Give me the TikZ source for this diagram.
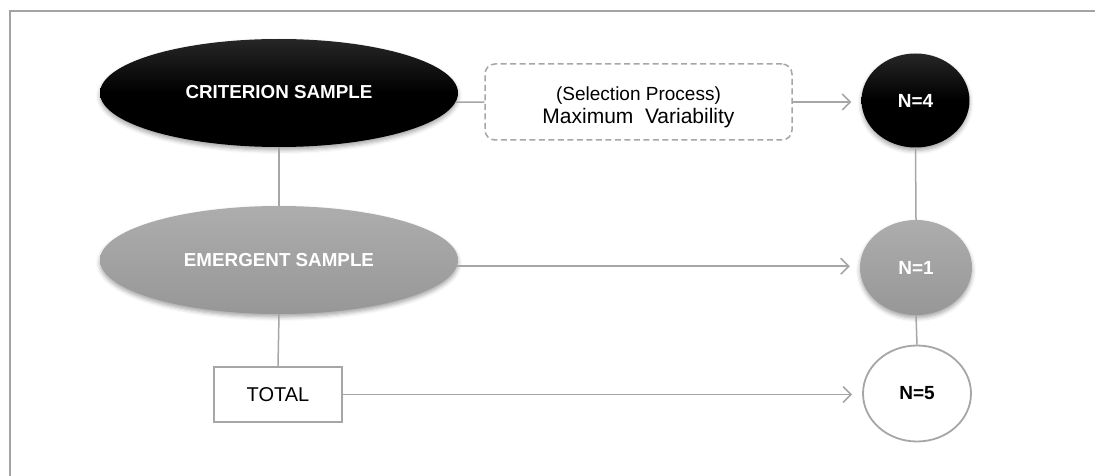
\documentclass[tikz,border=0pt]{standalone}
\usepackage{fontspec}
\setmainfont{Liberation Sans}
\usetikzlibrary{arrows.meta,shapes.geometric,shadows.blur}

\definecolor{linegray}{HTML}{A6A6A6}
\definecolor{framegray}{HTML}{A3A3A3}
\definecolor{midgray}{HTML}{A4A4A4}

\tikzset{
  link/.style={draw=linegray, line width=1.5pt},
  arrowlink/.style={link, -{Straight Barb[length=8pt,width=16pt,line width=1.5pt]}, shorten >=10pt},
  softshadow/.style={blur shadow={shadow xshift=0pt, shadow yshift=-3pt, shadow blur radius=4pt, shadow opacity=35}},
  bigoval/.style={ellipse, minimum width=358pt, minimum height=108pt, inner sep=0pt,
    text=white, font=\fontsize{18.8}{21}\selectfont\bfseries, softshadow},
  smalloval/.style={ellipse, minimum width=108pt, minimum height=94pt, inner sep=0pt,
    font=\fontsize{19}{22}\selectfont\bfseries},
  darkfill/.style={top color=black!85, bottom color=black, middle color=black},
  grayfill/.style={top color=midgray!90!white, bottom color=midgray!92!black},
  plainbox/.style={rectangle, draw=linegray, line width=1.5pt, fill=white, inner sep=0pt},
}

\begin{document}
\begin{tikzpicture}[x=1pt, y=-1pt]
\useasboundingbox (0,0) rectangle (1095,476);

% outer frame (top and left edges)
\draw[framegray, line width=2pt] (9.5,477) -- (9.5,11) -- (1096,11);

% left column
\node[bigoval, darkfill] (crit) at (279,93) {\raisebox{3pt}{CRITERION SAMPLE}};
\node[bigoval, grayfill] (emer) at (279,260) {EMERGENT SAMPLE};
\node[plainbox, minimum width=128pt, minimum height=55pt,
      font=\fontsize{20}{22}\selectfont] (total) at (278,394.5) {TOTAL};

% selection process box (strut on the first line lowers the text a little)
\node[plainbox, rounded corners=10pt, dash pattern=on 6pt off 3.5pt,
      minimum width=307pt, minimum height=76pt, align=center,
      font=\fontsize{19}{23}\selectfont] (sel) at (638.5,102)
  {\rule{0pt}{24pt}(Selection Process)\\
   {\fontsize{21}{23}\selectfont Maximum\hspace{0.55em}Variability}};

% right column
\node[smalloval, darkfill, text=white, softshadow] (n4) at (915.5,100.5) {N=4};
\node[smalloval, grayfill, text=white, softshadow,
      minimum width=112pt, minimum height=95pt] (n1) at (916,267.5) {N=1};
\node[smalloval, draw=linegray, line width=1.8pt, fill=white, text=black,
      minimum width=108pt, minimum height=96pt] (n5) at (917,393.5) {N=5};

% connectors
\draw[link] (crit.south) -- (emer.north);
\draw[link] (emer.south) -- (total.north);
\draw[link] (n4.south) -- (n1.north);
\draw[link] (n1.south) -- (n5.north);
\draw[link] (crit.-3) -- (sel.west);
\draw[arrowlink] (sel.east) -- (n4.west |- sel.east);
\draw[arrowlink] (emer.-2.3) -- (n1.west |- emer.-2.3);
\draw[arrowlink] (total.east) -- (n5.west |- total.east);
\end{tikzpicture}
\end{document}
